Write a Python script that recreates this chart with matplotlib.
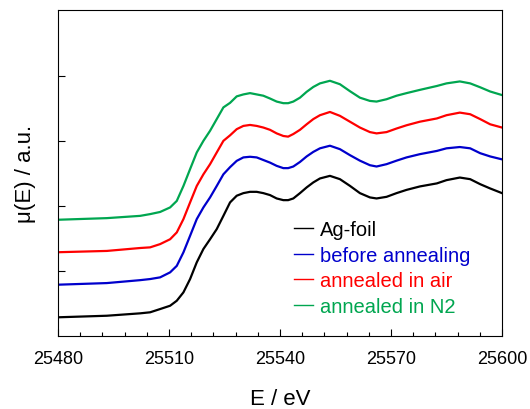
import matplotlib
matplotlib.use("Agg")
import matplotlib.pyplot as plt

plt.rcParams["font.family"] = ["Liberation Sans", "DejaVu Sans"]

# energy grid (eV)
energy = [25480.0, 25493.2, 25502.2, 25504.9, 25507.6, 25510.3, 25512.1, 25513.9,
          25515.7, 25517.5, 25519.3, 25521.1, 25522.9, 25524.7, 25526.5, 25528.3,
          25530.1, 25531.9, 25533.7, 25535.5, 25537.3, 25539.1, 25540.9, 25542.2,
          25543.6, 25545.4, 25547.2, 25549.0, 25550.8, 25553.5, 25556.2, 25558.9,
          25561.6, 25564.3, 25566.1, 25568.8, 25571.5, 25574.2, 25577.8, 25582.4,
          25585.0, 25588.6, 25591.4, 25594.1, 25596.8, 25600.0]

ag_foil = [0.288, 0.312, 0.349, 0.365, 0.415, 0.466, 0.543, 0.672,
           0.877, 1.134, 1.34, 1.49, 1.646, 1.85, 2.057, 2.16,
           2.20, 2.22, 2.22, 2.20, 2.17, 2.118, 2.092, 2.092,
           2.118, 2.20, 2.288, 2.365, 2.426, 2.466, 2.415, 2.312,
           2.20, 2.134, 2.118, 2.143, 2.20, 2.25, 2.303, 2.35,
           2.40, 2.44, 2.415, 2.338, 2.272, 2.20]

before_annealing = [0.79, 0.815, 0.86, 0.877, 0.903, 0.98, 1.08, 1.288,
                    1.543, 1.80, 1.98, 2.134, 2.31, 2.49, 2.60, 2.697,
                    2.75, 2.76, 2.75, 2.71, 2.67, 2.62, 2.585, 2.585,
                    2.61, 2.68, 2.765, 2.835, 2.89, 2.93, 2.877, 2.785,
                    2.70, 2.63, 2.61, 2.646, 2.70, 2.75, 2.80, 2.85,
                    2.89, 2.91, 2.89, 2.815, 2.765, 2.72]

annealed_air = [1.29, 1.31, 1.355, 1.365, 1.415, 1.49, 1.595, 1.80,
                2.057, 2.31, 2.49, 2.646, 2.826, 3.005, 3.09, 3.185,
                3.235, 3.25, 3.235, 3.21, 3.175, 3.12, 3.08, 3.07,
                3.11, 3.175, 3.26, 3.34, 3.40, 3.45, 3.39, 3.30,
                3.21, 3.14, 3.12, 3.14, 3.195, 3.245, 3.30, 3.35,
                3.40, 3.44, 3.415, 3.34, 3.26, 3.21]

annealed_n2 = [1.79, 1.815, 1.85, 1.877, 1.91, 1.98, 2.08, 2.31,
               2.57, 2.826, 3.005, 3.16, 3.34, 3.52, 3.59, 3.69,
               3.72, 3.74, 3.72, 3.70, 3.657, 3.61, 3.585, 3.585,
               3.61, 3.67, 3.76, 3.835, 3.89, 3.93, 3.877, 3.77,
               3.67, 3.62, 3.61, 3.646, 3.70, 3.74, 3.79, 3.85,
               3.89, 3.92, 3.89, 3.83, 3.765, 3.71]

labels = ["Ag-foil", "before annealing", "annealed in air", "annealed in N2"]
colors = ["#000000", "#0000cc", "#ff0000", "#00a650"]
xticks = [25480, 25510, 25540, 25570, 25600]

fig = plt.figure(figsize=(5.3, 4.1), dpi=100)
ax = fig.add_axes([58 / 530, 1 - 337 / 410, 444 / 530, 326 / 410])

for y, lab, c in zip([ag_foil, before_annealing, annealed_air, annealed_n2], labels, colors):
    ax.plot(energy, y, color=c, lw=1.6, label=lab)

ax.set_xlim(25480, 25600)
ax.set_ylim(0, 5.02)
ax.set_xticks(xticks)
ax.set_xticks([t for t in range(25480, 25601, 6) if t not in xticks], minor=True)
ax.set_yticks([1, 2, 3, 4])
ax.tick_params(axis="x", which="major", direction="in", length=5, width=0.8,
               labelsize=13, pad=10, top=False)
ax.tick_params(axis="x", which="minor", direction="in", length=3, width=0.8, top=False)
ax.tick_params(axis="y", direction="in", length=5, width=0.8, labelleft=False, right=False)
for s in ax.spines.values():
    s.set_linewidth(0.8)

ax.set_xlabel("E / eV", fontsize=16, labelpad=15)
ax.set_ylabel("μ(E) / a.u.", fontsize=16, labelpad=16)

leg = ax.legend(loc="upper left", bbox_to_anchor=(294 / 530, 1 - 221 / 410),
                bbox_transform=fig.transFigure, frameon=False, fontsize=14.5,
                handlelength=0.95, handletextpad=0.35, labelspacing=0.335,
                borderpad=0, borderaxespad=0, labelcolor="linecolor")
for line in leg.get_lines():
    line.set_linewidth(1.0)

fig.savefig("out.png", dpi=100)
